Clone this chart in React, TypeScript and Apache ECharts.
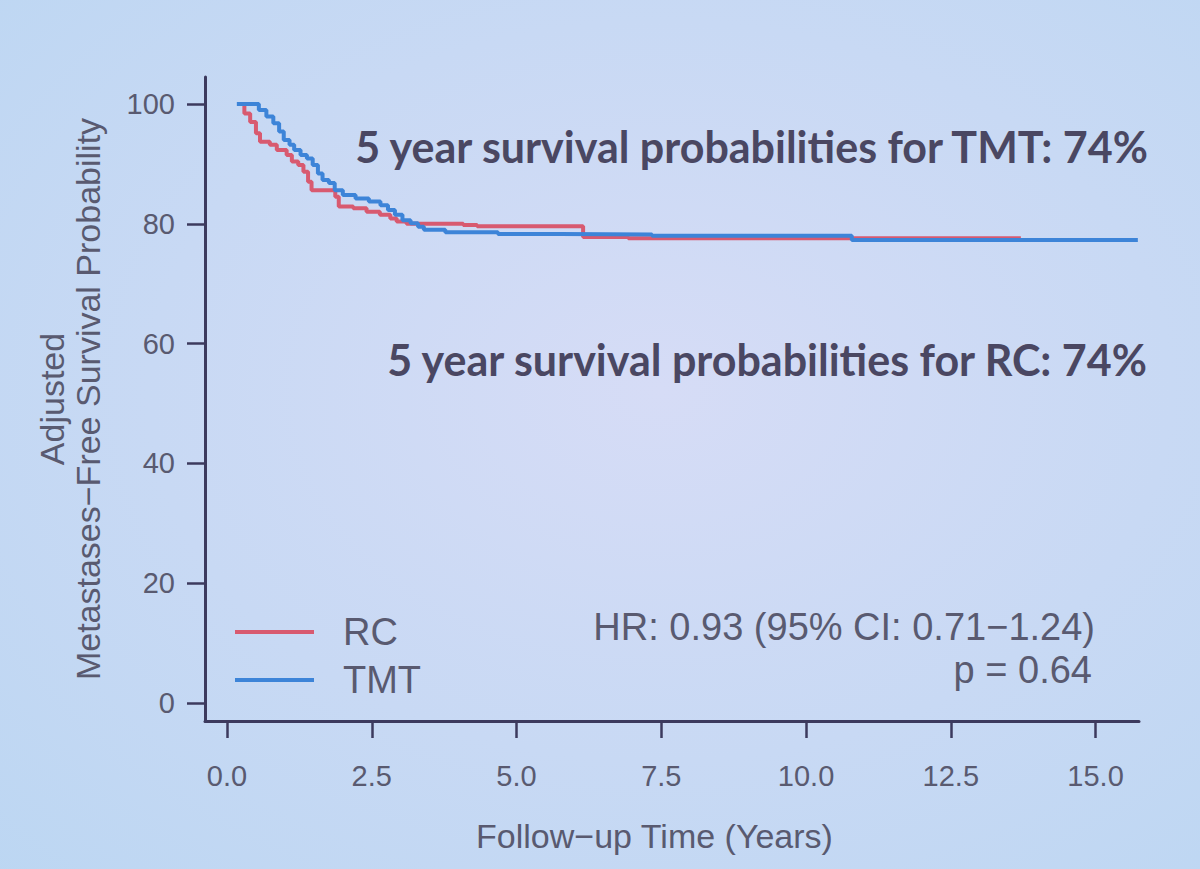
import React, { useEffect, useRef } from "react";
import * as echarts from "echarts";

// ---- data ----
const tmtTime = [0.17, 0.55, 0.68, 0.8, 0.9, 0.98, 1.08, 1.16, 1.27, 1.38, 1.48, 1.57, 1.65, 1.76, 1.86, 2.0, 2.22, 2.45, 2.65, 2.78, 2.9, 3.03, 3.17, 3.3, 3.4, 3.77, 4.68, 5.75, 7.34, 10.79, 15.73];
const tmtSurv = [100, 99.0, 97.9, 96.8, 95.4, 94.0, 93.2, 92.3, 91.5, 90.9, 89.8, 88.4, 87.3, 86.8, 85.6, 84.8, 84.2, 83.7, 83.1, 82.3, 81.5, 80.6, 80.1, 79.5, 79.0, 78.6, 78.3, 78.2, 78.0, 77.3, 77.3];

const rcTime = [0.2, 0.3, 0.4, 0.5, 0.57, 0.74, 0.86, 1.03, 1.12, 1.23, 1.32, 1.4, 1.46, 1.87, 1.93, 2.18, 2.41, 2.64, 2.82, 2.93, 3.1, 4.08, 4.32, 6.15, 6.93, 13.71];
const rcSurv = [100, 98.4, 97.0, 95.1, 93.7, 93.2, 92.3, 91.5, 90.4, 89.8, 88.7, 87.0, 85.6, 84.5, 82.9, 82.6, 82.0, 81.5, 80.9, 80.4, 80.0, 79.8, 79.6, 77.8, 77.6, 77.6];

const xTicks = [0, 2.5, 5, 7.5, 10, 12.5, 15];
const yTicks = [0, 20, 40, 60, 80, 100];

const groupNames = ["RC", "TMT"];
const groupColors = ["#d85a70", "#3d84d8"];

const xTitle = "Follow\u2212up Time (Years)";
const yTitle = "Adjusted\nMetastases\u2212Free Survival Probability";
const noteTMT = "5 year survival probabilities for TMT: 74%";
const noteRC = "5 year survival probabilities for RC: 74%";
const noteHR = "HR: 0.93 (95% CI: 0.71\u22121.24)";
const noteP = "p = 0.64";

const axisColor = "#3c3a5e";
const labelColor = "#595a70";
const noteColor = "#4a4762";
const sans = "'Liberation Sans', Arial, sans-serif";
const noteFont = "Lato, 'Open Sans', sans-serif";

export default function App() {
  const ref = useRef<HTMLDivElement>(null);

  useEffect(() => {
    if (!ref.current) return;
    const chart = echarts.init(ref.current, undefined, { renderer: "svg" });
    const rcData = rcTime.map((t, i) => [t, rcSurv[i]]);
    const tmtData = tmtTime.map((t, i) => [t, tmtSurv[i]]);

    chart.setOption({
      animation: false,
      backgroundColor: {
        type: "radial",
        x: 0.55,
        y: 0.45,
        r: 0.85,
        colorStops: [
          { offset: 0, color: "#d6dcf6" },
          { offset: 1, color: "#bad6f2" },
        ],
      },
      grid: { left: 205, right: 61, top: 77, bottom: 148 },
      xAxis: {
        type: "value",
        min: -0.38,
        max: 15.75,
        axisLine: { show: true, onZero: false, lineStyle: { color: axisColor, width: 3 } },
        axisTick: { show: true, customValues: xTicks, length: 17, lineStyle: { color: axisColor, width: 2.5 } },
        axisLabel: {
          customValues: xTicks,
          formatter: (v: number) => v.toFixed(1),
          margin: 40,
          fontSize: 29,
          color: labelColor,
          fontFamily: sans,
        },
        splitLine: { show: false },
        name: xTitle,
        nameLocation: "middle",
        nameGap: 98,
        nameTextStyle: { fontSize: 34, color: labelColor, fontFamily: sans, padding: [0, 35, 0, 0] },
      },
      yAxis: {
        type: "value",
        min: -3,
        max: 104.5,
        axisLine: { show: true, onZero: false, lineStyle: { color: axisColor, width: 3 } },
        axisTick: { show: true, customValues: yTicks, length: 18, lineStyle: { color: axisColor, width: 2.5 } },
        axisLabel: {
          customValues: yTicks,
          margin: 30,
          fontSize: 29,
          color: labelColor,
          fontFamily: sans,
        },
        splitLine: { show: false },
        name: yTitle,
        nameLocation: "middle",
        nameRotate: 90,
        nameGap: 99,
        nameTextStyle: { fontSize: 34, lineHeight: 36, color: labelColor, fontFamily: sans },
      },
      legend: {
        left: 230,
        top: 608,
        orient: "vertical",
        icon: "rect",
        itemWidth: 79,
        itemHeight: 4,
        itemGap: 10,
        data: groupNames,
        textStyle: { fontSize: 38, lineHeight: 38, color: labelColor, fontFamily: sans, padding: [0, 0, 0, 24] },
      },
      series: [
        {
          name: groupNames[0],
          type: "line",
          step: "end",
          data: rcData,
          showSymbol: false,
          lineStyle: { color: groupColors[0], width: 4 },
          itemStyle: { color: groupColors[0] },
          z: 2,
        },
        {
          name: groupNames[1],
          type: "line",
          step: "end",
          data: tmtData,
          showSymbol: false,
          lineStyle: { color: groupColors[1], width: 4 },
          itemStyle: { color: groupColors[1] },
          z: 3,
        },
      ],
      graphic: [
        {
          type: "text",
          x: 1148,
          y: 146,
          style: { text: noteTMT, align: "right", verticalAlign: "middle", fontSize: 43, fontWeight: "bold", fontFamily: noteFont, fill: noteColor },
        },
        {
          type: "text",
          x: 1147,
          y: 359,
          style: { text: noteRC, align: "right", verticalAlign: "middle", fontSize: 43, fontWeight: "bold", fontFamily: noteFont, fill: noteColor },
        },
        {
          type: "text",
          x: 1095,
          y: 627,
          style: { text: noteHR, align: "right", verticalAlign: "middle", fontSize: 38, fontFamily: sans, fill: labelColor },
        },
        {
          type: "text",
          x: 1092,
          y: 670,
          style: { text: noteP, align: "right", verticalAlign: "middle", fontSize: 38, fontFamily: sans, fill: labelColor },
        },
      ],
    });

    return () => chart.dispose();
  }, []);

  return (
    <div
      ref={ref}
      style={{ position: "absolute", left: 0, top: 0, width: 1200, height: 869 }}
    />
  );
}
